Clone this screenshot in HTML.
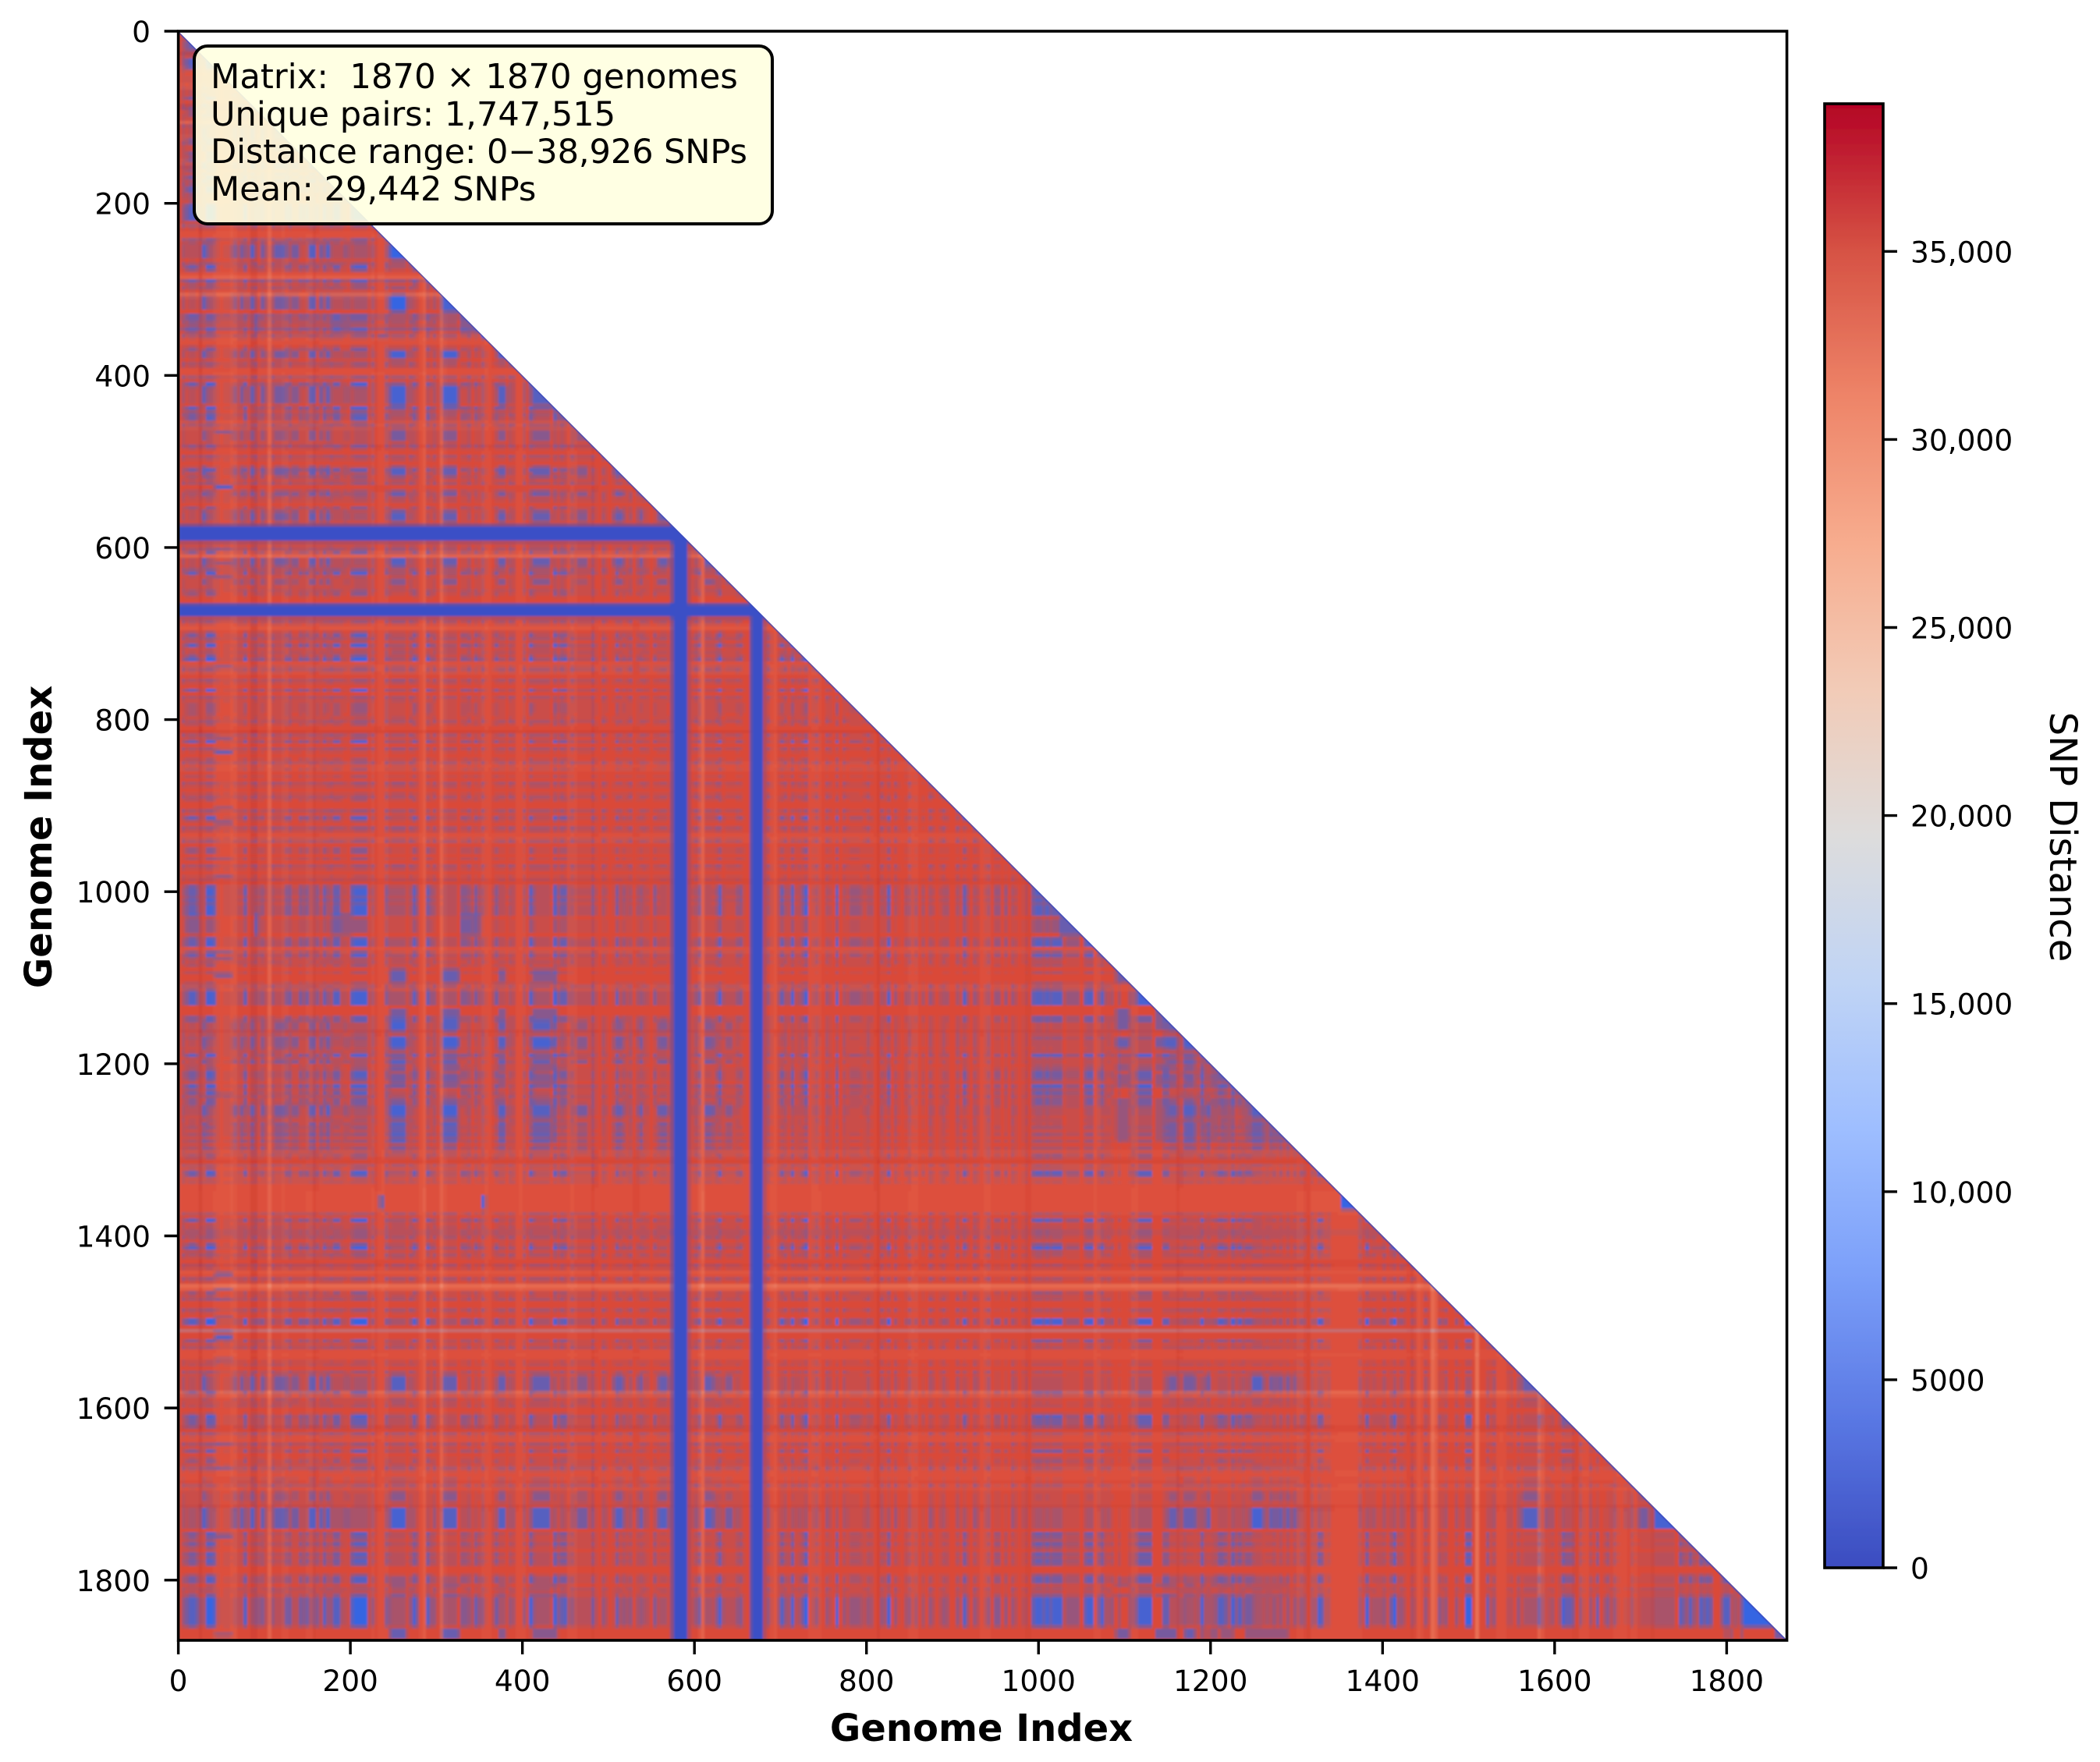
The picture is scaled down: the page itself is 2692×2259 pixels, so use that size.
<!DOCTYPE html>
<html lang="en">
<head>
<meta charset="utf-8">
<title>SNP distance matrix</title>
<style>
html,body{margin:0;padding:0;background:#fff;}
body{width:2692px;height:2259px;overflow:hidden;position:relative;}
svg{position:absolute;left:0;top:0;}
text{font-family:"DejaVu Sans","Liberation Sans",sans-serif;fill:#000;}
</style>
</head>
<body>
<svg id="chart" xmlns="http://www.w3.org/2000/svg" width="2692" height="2259" viewBox="0 0 2692 2259">
  <defs>
    <clipPath id="triangle-clip"><polygon id="triangle-shape" points="228.6,40 228.6,2102.5 2290.6,2102.5"/></clipPath>
    <filter id="soft" x="-2%" y="-2%" width="104%" height="104%"><feGaussianBlur stdDeviation="1.3"/></filter>
    <filter id="soft-text" x="-5%" y="-5%" width="110%" height="110%"><feGaussianBlur stdDeviation="0.35"/></filter>
    <linearGradient id="colorbar-gradient" x1="0" y1="1" x2="0" y2="0"></linearGradient>
  </defs>
  <rect x="0" y="0" width="2692" height="2259" fill="#fff"/>
  <g clip-path="url(#triangle-clip)">
    <g id="heatmap" filter="url(#soft)"></g>
    <line id="diagonal" stroke="#3b4cc0" stroke-width="3" stroke-opacity="0.75"/>
  </g>
  <g filter="url(#soft-text)">
    <g id="axes"></g>
    <g>
      <rect x="249" y="59" width="741" height="228" rx="17" ry="17" fill="#ffffe0" fill-opacity="0.9" stroke="#000" stroke-width="4"/>
      <text x="270" y="113" font-size="43.3" style="white-space:pre">Matrix:  1870 × 1870 genomes</text>
      <text x="270" y="161" font-size="43.1">Unique pairs: 1,747,515</text>
      <text x="270" y="209" font-size="43.1" textLength="688" lengthAdjust="spacing">Distance range: 0−38,926 SNPs</text>
      <text x="270" y="257" font-size="43.1">Mean: 29,442 SNPs</text>
    </g>
    <text x="1258" y="2232" font-size="48" font-weight="bold" text-anchor="middle">Genome Index</text>
    <text x="0" y="0" font-size="48" font-weight="bold" text-anchor="middle" transform="translate(66,1073) rotate(-90)">Genome Index</text>
    <text x="0" y="0" font-size="48" text-anchor="middle" transform="translate(2628,1073) rotate(90)">SNP Distance</text>
    <g id="colorbar"></g>
  </g>
</svg>
<script>
// ---- chart data (genome indices and SNP distances) ----
const genomeCount = 1870;
const xTickValues = [0, 200, 400, 600, 800, 1000, 1200, 1400, 1600, 1800];
const yTickValues = [0, 200, 400, 600, 800, 1000, 1200, 1400, 1600, 1800];
const colorbarTickValues = [0, 5000, 10000, 15000, 20000, 25000, 30000, 35000];
const colorbarTickLabels = ['0', '5000', '10,000', '15,000', '20,000', '25,000', '30,000', '35,000'];
const maxDistance = 38926;
const baseDistance = 34800;
const cladeDistance = 2800;
const outlierDistance = 500;

// outlier genomes: low distance to everything [start, end]
const outlierBands = [[574, 592], [665, 680]];

// lineage A: [start, end, purity]
const cladeA = [
  [10,14,1],[17,21,1],[32,42,1],[76,79,.7],[94,97,.6],[124,130,.5],[141,144,.7],[147,150,.7],
  [159,162,.6],[168,172,.7],[181,186,1],[201,219,1],[242,245,.5],[272,274,.8],[274,277,.8],[288,293,.7],
  [328,336,.45],[343,349,.6],[367,370,.7],[408,412,.8],[436,440,.9],[443,446,.8],[449,452,.9],
  [481,484,.45],[508,510,.8],[517,520,.45],[534,537,.45],[552,555,.45],[604,606,.7],[627,632,.9],
  [650,656,.45],[699,702,.9],[711,715,.9],[726,731,1],[764,767,.8],[780,794,.35],[805,806,.5],
  [823,827,.8],[844,845,.5],[858,859,.5],[865,866,.5],[894,895,.5],[913,916,1],[950,953,.8],[960,961,.7],
  [993,1005,.85],[1007,1014,.85],[1016,1027,.8],[1030,1047,.35],[1053,1063,.85],[1070,1076,.8],[1085,1086,.6],
  [1094,1095,.5],[1104,1105,.5],[1114,1131,.9],[1145,1150,.8],[1168,1169,.5],[1188,1192,.9],[1201,1202,.5],
  [1206,1218,.7],[1223,1227,.9],[1230,1234,.9],[1239,1248,.55],[1274,1275,.5],[1281,1282,.5],[1289,1290,.5],
  [1296,1297,.5],[1304,1305,.5],[1310,1311,.5],[1323,1330,.85],[1380,1383,.8],[1395,1396,.9],[1410,1416,1],
  [1465,1468,.5],[1496,1503,1],[1520,1522,.8],[1582,1584,1],[1607,1611,.85],[1613,1616,.85],[1618,1621,.85],
  [1649,1651,.8],[1659,1661,.8],[1744,1748,.7],[1750,1753,.65],[1756,1761,.7],[1767,1774,.7],[1776,1782,.7],
  [1794,1804,.7],[1818,1853,1]
];

// lineage B: [start, end, purity]
const cladeB = [
  [29,32,1],[62,68,.45],[73,76,.8],[83,86,1],[97,100,.8],[112,126,.65],[132,134,.7],[137,139,.7],
  [153,158,1],[165,168,.8],[172,175,.8],[194,197,.6],[246,264,.9],[307,323,.8],[371,380,.75],[411,432,.8],
  [463,475,.55],[506,517,.75],[534,539,.7],[557,569,.75],[612,622,.75],[635,643,.5],[1150,1161,.6],
  [1168,1182,.7],[1194,1199,.7],[1247,1261,.85],[1268,1274,.65],[1277,1283,.65],[1286,1292,.65],[1295,1300,.55],
  [1562,1580,.8],[1590,1592,.6],[1683,1684,.7],[1697,1708,.5],[1716,1739,.95]
];

// lineage E: [start, end, purity]
const cladeE = [
  [246,264,.9],[307,326,.9],[372,380,.65],[411,440,.65],[1090,1105,.8],[1136,1160,.7],[1169,1181,.9],
  [1187,1193,.55],[1198,1208,.55],[1212,1226,.55],[1240,1290,.45],[1799,1800,.8],[1806,1807,.8],[1817,1818,.8],[1856,1867,.8]
];

// lineage G: [start, end, purity]
const cladeG = [
  [10,24,.4],[89,92,1],[177,200,.5],[328,350,.6],[1025,1050,.8]
];

// lineage D: [start, end, purity]
const cladeD = [
  [234,238,.8],[352,356,.9],[1352,1368,1]
];

// diffuse related genomes that give the matrix its fine purple texture [start, end, purity]
const cladeDiffuse = [
  [4,8,.6],[23,26,.6],[45,48,.35],[54,57,.35],[70,73,.7],[88,91,.6],[102,104,.6],[108,111,.65],[128,131,.6],
  [146,149,.55],[176,180,.6],[189,193,.6],[222,228,.6],[240,244,.6],[268,272,.6],[296,300,.65],[334,339,.6],
  [352,356,.6],[384,390,.6],[400,404,.6],[444,448,.6],[456,461,.6],[478,484,.65],[492,497,.6],[522,527,.6],
  [541,545,.65],[598,603,.65],[624,627,.6],[646,650,.6],[684,688,.65],[704,708,.6],[718,722,.65],[738,744,.6],
  [752,757,.65],[772,777,.6],[798,803,.6],[816,820,.6],[832,836,.65],[848,852,.6],[872,877,.65],[886,891,.6],
  [904,908,.6],[924,929,.65],[938,943,.6],[968,973,.65],[982,986,.55],[1078,1082,.6],[1108,1112,.55],[1162,1166,.6],
  [1184,1186,.6],[1236,1239,.6],[1262,1266,.6],[1302,1306,.55],[1316,1320,.5],[1334,1338,.5],[1372,1376,.55],
  [1386,1390,.6],[1400,1404,.6],[1420,1425,.6],[1432,1437,.55],[1448,1452,.6],[1470,1475,.6],[1484,1488,.6],
  [1526,1531,.6],[1546,1550,.55],[1556,1560,.6],[1594,1598,.6],[1628,1632,.6],[1640,1644,.6],[1666,1672,.6],
  [1688,1692,.55],[1710,1713,.55],[1808,1814,.55]
];

// thin lineage that only shows in columns 42-62
const cladeCColumns = [[42,62,1]];
const cladeCRows = [
  [466,467,.9],[529,531,1],[600,601,.7],[616,617,.7],[634,635,.8],[737,738,.7],[820,821,.7],[836,838,.9],
  [902,903,.7],[916,917,.7],[922,923,.7],[962,963,.6],[980,981,.7],[1069,1070,.7],[1076,1077,.7],
  [1095,1097,1],[1235,1236,.7],[1443,1445,1],[1460,1461,.9],[1474,1475,.7],[1494,1495,.7],[1510,1512,.8],
  [1516,1520,.8],[1543,1544,.8],[1642,1643,.7],[1668,1669,.7],[1747,1749,.9],[1862,1864,.7]
];

// rows that read purple across their whole width [start, end, amount]
const mixedRows = [[288,291,.2],[328,334,.22],[342,347,.25],[1395,1396,.55],[1508,1510,.25]];

// lighter genomes [start, end, SNP offset]
const lightStripes = [
  [42,62,-450],[62,65,-1200],[105,107,-2200],[120,124,-400],[150,153,-500],[225,240,-400],[283,286,-1800],
  [305,308,-2200],[355,360,-500],[395,400,-400],[455,460,-500],[607,609,-3500],[690,694,-800],[735,745,-400],
  [850,858,-500],[935,942,-500],[1065,1068,-600],[1110,1114,-600],[1300,1345,-200],[1346,1373,-400],
  [1440,1444,-600],[1458,1460,-5000],[1508,1510,-3500],[1535,1540,-500],[1582,1584,-4000],[1630,1638,-400],
  [1670,1680,-300],[1690,1695,-500]
];

// darker genomes [start, end, SNP offset]
const darkStripes = [
  [24,27,1300],[85,90,1500],[157,160,1100],[228,232,700],[480,484,800],[530,533,700],[811,815,1000],
  [985,990,700],[1160,1164,800],[1310,1314,900],[1430,1435,700],[1620,1626,700],[1712,1716,700]
];

// colormap for the heatmap [SNPs, r, g, b]
const heatStops = [
  [0,58,76,192],[500,58,80,198],[2800,53,101,226],[9000,123,159,249],[20000,221,220,220],
  [28000,244,182,155],[30000,240,144,117],[32000,232,111,85],[34000,224,85,64],[35000,218,74,56],[36500,207,62,50],[38000,187,36,48]
];

// colorbar colormap [fraction, colour]
const colorbarStops = [
  [0,'#3b4cc0'],[.1,'#5977e3'],[.2,'#7b9ff9'],[.3,'#9ebeff'],[.4,'#c0d4f5'],[.5,'#dddcdc'],
  [.6,'#f2cbb7'],[.7,'#f7ac8e'],[.8,'#ee8468'],[.9,'#d65244'],[1,'#b40426']
];

// ---- layout & scales ----
const SVGNS = 'http://www.w3.org/2000/svg';
const plotLeft = 228.6, plotRight = 2290.6, plotTop = 40, plotBottom = 2103;
const barLeft = 2339, barRight = 2414, barTop = 133, barBottom = 2010;
const xScale = v => plotLeft + (v / genomeCount) * (plotRight - plotLeft);
const yScale = v => plotTop + (v / genomeCount) * (plotBottom - plotTop);
const barScale = v => barBottom - (v / maxDistance) * (barBottom - barTop);
const binSize = 4;
const binCount = Math.ceil(genomeCount / binSize);

function membership(runs) {
  const perGenome = new Float32Array(genomeCount);
  runs.forEach(run => {
    const amount = run.length > 2 ? run[2] : 1;
    for (let i = run[0]; i <= run[1] && i < genomeCount; i++) perGenome[i] = Math.max(perGenome[i], amount);
  });
  return toBins(perGenome);
}
function offsets(runsA, runsB) {
  const perGenome = new Float32Array(genomeCount);
  runsA.concat(runsB).forEach(run => {
    for (let i = run[0]; i <= run[1] && i < genomeCount; i++) perGenome[i] += run[2];
  });
  return toBins(perGenome);
}
function toBins(perGenome) {
  const bins = new Float32Array(binCount);
  for (let b = 0; b < binCount; b++) {
    let sum = 0, n = 0;
    for (let i = b * binSize; i < (b + 1) * binSize && i < genomeCount; i++) { sum += perGenome[i]; n++; }
    bins[b] = n ? sum / n : 0;
  }
  return bins;
}
function heatRgb(value) {
  for (let k = 1; k < heatStops.length; k++) {
    if (value <= heatStops[k][0]) {
      const a = heatStops[k - 1], b = heatStops[k];
      const t = Math.max(0, (value - a[0]) / (b[0] - a[0]));
      return [a[1] + (b[1] - a[1]) * t, a[2] + (b[2] - a[2]) * t, a[3] + (b[3] - a[3]) * t];
    }
  }
  const last = heatStops[heatStops.length - 1];
  return [last[1], last[2], last[3]];
}
const mix = (a, b, t) => [a[0] + (b[0] - a[0]) * t, a[1] + (b[1] - a[1]) * t, a[2] + (b[2] - a[2]) * t];

// ---- heatmap ----
(function drawHeatmap() {
  const binsA = membership(cladeA), binsB = membership(cladeB), binsE = membership(cladeE);
  const binsG = membership(cladeG), binsD = membership(cladeD), binsW = membership(cladeDiffuse);
  const binsCCol = membership(cladeCColumns), binsCRow = membership(cladeCRows);
  const binsMixed = membership(mixedRows), binsBand = membership(outlierBands);
  const binsOffset = offsets(lightStripes, darkStripes);
  const cladeRgb = heatRgb(cladeDistance), bandRgb = heatRgb(outlierDistance);
  const cache = new Map();
  const layer = document.getElementById('heatmap');
  const frag = document.createDocumentFragment();
  for (let r = 0; r < binCount; r++) {
    let runStart = 0, runKey = null;
    const y0 = Math.round(yScale(r * binSize)), y1 = Math.round(yScale(Math.min(genomeCount, (r + 1) * binSize)));
    const flush = endBin => {
      if (runKey === null) return;
      const x0 = Math.round(xScale(runStart * binSize)), x1 = Math.round(xScale(Math.min(genomeCount, endBin * binSize)));
      const cell = document.createElementNS(SVGNS, 'rect');
      
      
      cell.setAttribute('x', x0);
      cell.setAttribute('y', y0);
      cell.setAttribute('width', x1 - x0);
      cell.setAttribute('height', y1 - y0);
      cell.setAttribute('fill', runKey);
      frag.appendChild(cell);
    };
    const lastCol = Math.min(binCount - 1, r + 1);
    for (let c = 0; c <= lastCol; c++) {
      const weakRow = Math.max(binsW[r], binsA[r] * 0.6, binsB[r] * 0.6);
      const weakCol = Math.max(binsW[c], binsA[c] * 0.6, binsB[c] * 0.6);
      const keep = (1 - binsA[r] * binsA[c]) * (1 - binsB[r] * binsB[c]) * (1 - binsE[r] * binsE[c]) *
                   (1 - binsG[r] * binsG[c]) * (1 - binsD[r] * binsD[c]) * (1 - binsCRow[r] * binsCCol[c]) *
                   (1 - binsMixed[r]) * (1 - 1.0 * weakRow * weakCol);
      const cladeShare = Math.round((1 - keep) * 10) / 10;
      const band = Math.round((1 - (1 - binsBand[r]) * (1 - binsBand[c])) * 4) / 4;
      const value = Math.round((baseDistance + binsOffset[r] + binsOffset[c]) / 500) * 500;
      const id = cladeShare + '|' + band + '|' + value;
      let colour = cache.get(id);
      if (!colour) {
        const rgb = mix(mix(heatRgb(value), cladeRgb, cladeShare), bandRgb, band);
        colour = 'rgb(' + Math.round(rgb[0]) + ',' + Math.round(rgb[1]) + ',' + Math.round(rgb[2]) + ')';
        cache.set(id, colour);
      }
      if (colour !== runKey) {
        flush(c);
        runStart = c;
        runKey = colour;
      }
    }
    flush(lastCol + 1);
  }
  layer.setAttribute('shape-rendering', 'crispEdges');
  layer.appendChild(frag);
  const diagonal = document.getElementById('diagonal');
  diagonal.setAttribute('x1', xScale(0));
  diagonal.setAttribute('y1', yScale(0));
  diagonal.setAttribute('x2', xScale(genomeCount));
  diagonal.setAttribute('y2', yScale(genomeCount));
})();

// ---- axes ----
(function drawAxes() {
  const axes = document.getElementById('axes');
  xTickValues.forEach(v => {
    const tick = document.createElementNS(SVGNS, 'line');
    
    
    tick.setAttribute('x1', xScale(v));
    tick.setAttribute('x2', xScale(v));
    tick.setAttribute('y1', plotBottom);
    tick.setAttribute('y2', plotBottom + 18);
    tick.setAttribute('stroke', '#000');
    tick.setAttribute('stroke-width', 3.4);
    axes.appendChild(tick);
    const label = document.createElementNS(SVGNS, 'text');
    
    
    label.setAttribute('x', xScale(v));
    label.setAttribute('y', 2168);
    label.setAttribute('font-size', 37.5);
    label.setAttribute('text-anchor', 'middle');
    label.textContent = String(v);
    axes.appendChild(label);
  });
  yTickValues.forEach(v => {
    const tick = document.createElementNS(SVGNS, 'line');
    
    
    tick.setAttribute('x1', plotLeft - 18);
    tick.setAttribute('x2', plotLeft);
    tick.setAttribute('y1', yScale(v));
    tick.setAttribute('y2', yScale(v));
    tick.setAttribute('stroke', '#000');
    tick.setAttribute('stroke-width', 3.4);
    axes.appendChild(tick);
    const label = document.createElementNS(SVGNS, 'text');
    
    
    label.setAttribute('x', 193);
    label.setAttribute('y', yScale(v) + 14);
    label.setAttribute('font-size', 37.5);
    label.setAttribute('text-anchor', 'end');
    label.textContent = String(v);
    axes.appendChild(label);
  });
  const frame = document.createElementNS(SVGNS, 'rect');
  
  
  frame.setAttribute('x', plotLeft);
  frame.setAttribute('y', plotTop);
  frame.setAttribute('width', plotRight - plotLeft);
  frame.setAttribute('height', plotBottom - plotTop);
  frame.setAttribute('fill', 'none');
  frame.setAttribute('stroke', '#000');
  frame.setAttribute('stroke-width', 3.6);
  axes.appendChild(frame);
})();

// ---- colorbar ----
(function drawColorbar() {
  const gradient = document.getElementById('colorbar-gradient');
  colorbarStops.forEach(s => {
    const stop = document.createElementNS(SVGNS, 'stop');
    stop.setAttribute('offset', s[0]);
    stop.setAttribute('stop-color', s[1]);
    gradient.appendChild(stop);
  });
  const bar = document.getElementById('colorbar');
  const body = document.createElementNS(SVGNS, 'rect');
  
  
  body.setAttribute('x', barLeft);
  body.setAttribute('y', barTop);
  body.setAttribute('width', barRight - barLeft);
  body.setAttribute('height', barBottom - barTop);
  body.setAttribute('fill', 'url(#colorbar-gradient)');
  body.setAttribute('stroke', '#000');
  body.setAttribute('stroke-width', 3.6);
  bar.appendChild(body);
  colorbarTickValues.forEach((v, i) => {
    const tick = document.createElementNS(SVGNS, 'line');
    
    
    tick.setAttribute('x1', barRight);
    tick.setAttribute('x2', barRight + 18);
    tick.setAttribute('y1', barScale(v));
    tick.setAttribute('y2', barScale(v));
    tick.setAttribute('stroke', '#000');
    tick.setAttribute('stroke-width', 3.4);
    bar.appendChild(tick);
    const label = document.createElementNS(SVGNS, 'text');
    
    
    label.setAttribute('x', 2449);
    label.setAttribute('y', barScale(v) + 14);
    label.setAttribute('font-size', 37.5);
    label.textContent = colorbarTickLabels[i];
    bar.appendChild(label);
  });
})();
</script>
</body>
</html>
